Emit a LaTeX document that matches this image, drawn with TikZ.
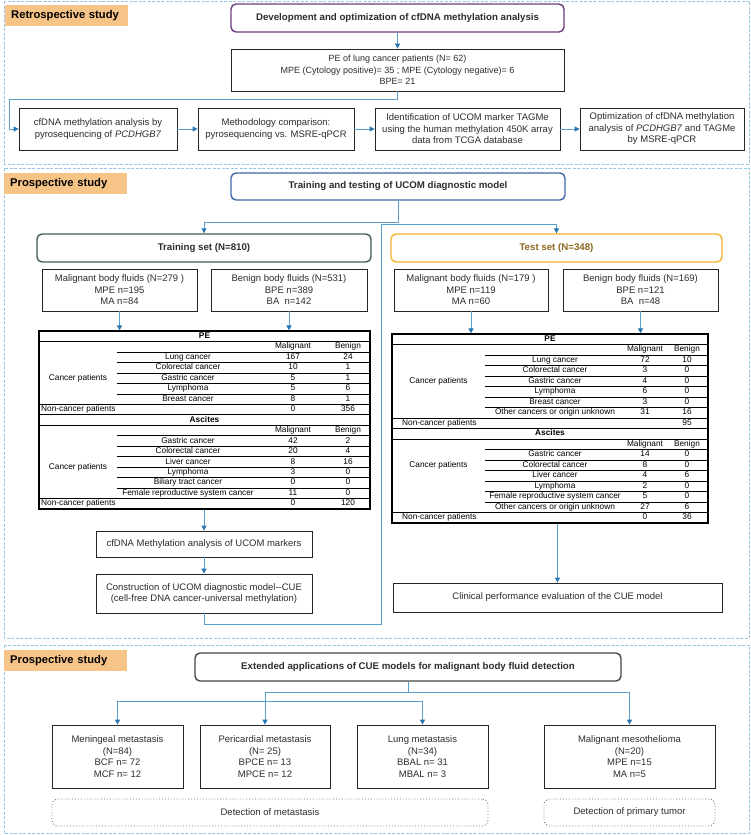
\documentclass[tikz,border=0pt]{standalone}
\usepackage{fontspec}
\setmainfont{Liberation Sans}
\usetikzlibrary{arrows.meta}
\definecolor{secline}{RGB}{150,200,228}
\definecolor{tagfill}{RGB}{246,196,134}
\definecolor{conn}{RGB}{90,160,205}
\definecolor{arr}{RGB}{40,118,176}
\definecolor{devc}{RGB}{106,60,124}
\definecolor{ttmc}{RGB}{64,104,168}
\definecolor{trainc}{RGB}{62,94,86}
\definecolor{testc}{RGB}{242,178,46}
\definecolor{testt}{RGB}{140,104,30}
\definecolor{extc}{RGB}{70,70,70}
\definecolor{dotc}{RGB}{130,110,150}
\definecolor{txt}{RGB}{45,45,45}
\begin{document}
\begin{tikzpicture}[x=1pt,y=-1pt,
  every node/.style={inner sep=0pt, text=txt},
  section/.style={draw=secline, line width=0.8pt, dash pattern=on 3pt off 1.5pt},
  tag/.style={fill=tagfill, anchor=north west, minimum width=123pt, minimum height=21pt, inner xsep=6pt, text width=111pt, align=left, font=\fontsize{11.2}{13}\selectfont\bfseries, text=black},
  box/.style={draw=black!85, line width=0.8pt, align=center, font=\fontsize{9.5}{11.5}\selectfont},
  headbox/.style={rounded corners=5pt, line width=1.4pt, align=center, font=\fontsize{9.7}{11.5}\selectfont\bfseries},
  dotbox/.style={draw=dotc, dotted, line width=0.9pt, rounded corners=6pt, align=center, font=\fontsize{9.5}{11.5}\selectfont},
  cell/.style={font=\fontsize{8.3}{9}\selectfont, text=black, text height=6pt, text depth=1.7pt},
  tcell/.style={cell, font=\fontsize{8.3}{9}\selectfont\bfseries},
  tabframe/.style={draw=black, line width=1.2pt},
  fullrule/.style={draw=black, line width=0.9pt},
  partrule/.style={draw=black, line width=0.65pt},
  conline/.style={draw=conn, line width=0.9pt},
  arrowline/.style={conline, -{Triangle[length=5pt,width=5pt,color=arr]}},
]
\fill[white] (0,0) rectangle (750,835);
\useasboundingbox (0,0) rectangle (750,835);

% ---------------- Section 1 ----------------
\draw[section] (4,1) rectangle (749,164);
\node[tag] (tag1) at (5,5) {\mbox{Retrospective study}};
\node[headbox, draw=devc, minimum width=333pt, minimum height=28pt] (dev) at (397.5,18) {Development and optimization of cfDNA methylation analysis};
\node[box, minimum width=333pt, minimum height=42pt, font=\fontsize{9}{11.5}\selectfont] (pe) at (397.5,70) {PE of lung cancer patients (N= 62)\\MPE (Cytology positive)= 35 ; MPE (Cytology negative)= 6\\BPE= 21};
\node[box, minimum width=158pt, minimum height=42pt] (b1) at (98,129) {cfDNA methylation analysis by\\pyrosequencing of \textit{PCDHGB7}};
\node[box, minimum width=156pt, minimum height=42pt] (b2) at (276,129) {Methodology comparison:\\pyrosequencing vs. MSRE-qPCR};
\node[box, minimum width=185pt, minimum height=42pt] (b3) at (467.5,129) {Identification of UCOM marker TAGMe\\using the human methylation 450K array\\data from TCGA database};
\node[box, minimum width=164pt, minimum height=42pt] (b4) at (662,129) {Optimization of cfDNA methylation\\analysis of \textit{PCDHGB7} and TAGMe\\by MSRE-qPCR};
\draw[arrowline] (dev.south) -- (pe.north);
\draw[arrowline] (pe.south) -- ++(0,8) -| (9,129) -- (b1.west);
\draw[arrowline] (b1.east) -- (b2.west);
\draw[arrowline] (b2.east) -- (b3.west);
\draw[arrowline] (b3.east) -- (b4.west);

% ---------------- Section 2 ----------------
\draw[section] (4,168) rectangle (749,638);
\node[tag] (tag2) at (4,173) {\mbox{Prospective study}};
\node[headbox, draw=ttmc, minimum width=334pt, minimum height=27pt] (ttm) at (398,186.5) {Training and testing of UCOM diagnostic model};
\node[headbox, draw=trainc, minimum width=334pt, minimum height=28pt] (train) at (204,248) {Training set (N=810)};
\node[headbox, draw=testc, text=testt, minimum width=331pt, minimum height=28pt] (test) at (556.5,248) {Test set (N=348)};
\node[box, minimum width=155pt, minimum height=42pt] (mal1) at (119.5,290) {Malignant body fluids (N=279 )\\MPE n=195\\MA n=84};
\node[box, minimum width=156pt, minimum height=42pt] (ben1) at (289,290) {Benign body fluids (N=531)\\BPE n=389\\BA\ \ n=142};
\node[box, minimum width=154pt, minimum height=42pt] (mal2) at (471,290) {Malignant body fluids (N=179 )\\MPE n=119\\MA n=60};
\node[box, minimum width=155pt, minimum height=42pt] (ben2) at (640.5,290) {Benign body fluids (N=169)\\BPE n=121\\BA\ \ n=48};

% Table 1
\node[tabframe, minimum width=331pt, minimum height=178pt] (tab1) at (204.5,420) {};
\def\tAy{331}\def\tAh{10.47}
\foreach \ri in {2,8,9,10,17} \draw[fullrule] (39,{\tAy+(\ri-1)*\tAh}) -- (370,{\tAy+(\ri-1)*\tAh});
\foreach \ri in {3,4,5,6,7,11,12,13,14,15,16} \draw[partrule] (117,{\tAy+(\ri-1)*\tAh}) -- (370,{\tAy+(\ri-1)*\tAh});
\node[tcell] (t1pe) at (204.5,{\tAy+0.5*\tAh}) {PE};
\node[tcell] (t1as) at (204.5,{\tAy+8.5*\tAh}) {Ascites};
\foreach \ri/\kk in {2/a,10/b} {
  \node[cell] (t1hm\kk) at (293,{\tAy+(\ri-0.5)*\tAh}) {Malignant};
  \node[cell] (t1hb\kk) at (348,{\tAy+(\ri-0.5)*\tAh}) {Benign};
}
\foreach \ri/\nm/\cm/\cb in {3/Lung cancer/167/24, 4/Colorectal cancer/10/1, 5/Gastric cancer/5/1, 6/Lymphoma/5/6, 7/Breast cancer/8/1, 11/Gastric cancer/42/2, 12/Colorectal cancer/20/4, 13/Liver cancer/8/16, 14/Lymphoma/3/0, 15/Biliary tract cancer/0/0, 16/Female reproductive system cancer/11/0} {
  \node[cell] (t1n\ri) at (188,{\tAy+(\ri-0.5)*\tAh}) {\nm};
  \node[cell] (t1m\ri) at (293,{\tAy+(\ri-0.5)*\tAh}) {\cm};
  \node[cell] (t1b\ri) at (348,{\tAy+(\ri-0.5)*\tAh}) {\cb};
}
\node[cell] (t1cpa) at (78,{\tAy+4.5*\tAh}) {Cancer patients};
\node[cell] (t1cpb) at (78,{\tAy+13.0*\tAh}) {Cancer patients};
\node[cell, anchor=west] (t1nca) at (41,{\tAy+7.5*\tAh}) {Non-cancer patients};
\node[cell] (t1ncam) at (293,{\tAy+7.5*\tAh}) {0};
\node[cell] (t1ncab) at (348,{\tAy+7.5*\tAh}) {356};
\node[cell, anchor=west] (t1ncb) at (41,{\tAy+16.5*\tAh}) {Non-cancer patients};
\node[cell] (t1ncbm) at (293,{\tAy+16.5*\tAh}) {0};
\node[cell] (t1ncbb) at (348,{\tAy+16.5*\tAh}) {120};

% Table 2
\node[tabframe, minimum width=316pt, minimum height=189pt] (tab2) at (550,428.5) {};
\def\tBy{334}\def\tBh{10.5}
\foreach \ri in {2,9,10,11,18} \draw[fullrule] (392,{\tBy+(\ri-1)*\tBh}) -- (708,{\tBy+(\ri-1)*\tBh});
\foreach \ri in {3,4,5,6,7,8,12,13,14,15,16,17} \draw[partrule] (485,{\tBy+(\ri-1)*\tBh}) -- (708,{\tBy+(\ri-1)*\tBh});
\node[tcell] (t2pe) at (550,{\tBy+0.5*\tBh}) {PE};
\node[tcell] (t2as) at (550,{\tBy+9.5*\tBh}) {Ascites};
\foreach \ri/\kk in {2/a,11/b} {
  \node[cell] (t2hm\kk) at (645,{\tBy+(\ri-0.5)*\tBh}) {Malignant};
  \node[cell] (t2hb\kk) at (687,{\tBy+(\ri-0.5)*\tBh}) {Benign};
}
\foreach \ri/\nm/\cm/\cb in {3/Lung cancer/72/10, 4/Colorectal cancer/3/0, 5/Gastric cancer/4/0, 6/Lymphoma/6/0, 7/Breast cancer/3/0, 8/Other cancers or origin unknown/31/16, 12/Gastric cancer/14/0, 13/Colorectal cancer/8/0, 14/Liver cancer/4/6, 15/Lymphoma/2/0, 16/Female reproductive system cancer/5/0, 17/Other cancers or origin unknown/27/6} {
  \node[cell] (t2n\ri) at (555,{\tBy+(\ri-0.5)*\tBh}) {\nm};
  \node[cell] (t2m\ri) at (645,{\tBy+(\ri-0.5)*\tBh}) {\cm};
  \node[cell] (t2b\ri) at (687,{\tBy+(\ri-0.5)*\tBh}) {\cb};
}
\node[cell] (t2cpa) at (438.5,{\tBy+4.5*\tBh}) {Cancer patients};
\node[cell] (t2cpb) at (438.5,{\tBy+12.5*\tBh}) {Cancer patients};
\node[cell, anchor=west] (t2nca) at (402,{\tBy+8.5*\tBh}) {Non-cancer patients};
\node[cell] (t2ncab) at (687,{\tBy+8.5*\tBh}) {95};
\node[cell, anchor=west] (t2ncb) at (402,{\tBy+17.5*\tBh}) {Non-cancer patients};
\node[cell] (t2ncbm) at (645,{\tBy+17.5*\tBh}) {0};
\node[cell] (t2ncbb) at (687,{\tBy+17.5*\tBh}) {36};

\node[box, minimum width=216pt, minimum height=26pt] (cfdna) at (204,544) {cfDNA Methylation analysis of UCOM markers};
\node[box, minimum width=216pt, minimum height=39pt] (cons) at (204,593.5) {Construction of UCOM diagnostic model-{}-CUE\\(cell-free DNA cancer-universal methylation)};
\node[box, minimum width=329pt, minimum height=29pt] (clin) at (557.5,597.5) {Clinical performance evaluation of the CUE model};

\draw[arrowline] (ttm.south) -- ++(0,22) -| (train.north);
\draw[arrowline] (mal1.south) -- (mal1.south |- tab1.north);
\draw[arrowline] (ben1.south) -- (ben1.south |- tab1.north);
\draw[arrowline] (mal2.south) -- (mal2.south |- tab2.north);
\draw[arrowline] (ben2.south) -- (ben2.south |- tab2.north);
\draw[arrowline] (cfdna.north |- tab1.south) -- (cfdna.north);
\draw[arrowline] (cfdna.south) -- (cons.north);
\draw[arrowline] (clin.north |- tab2.south) -- (clin.north);
\draw[arrowline] (cons.south) -- ++(0,11) -| (381,224) -| (test.north);

% ---------------- Section 3 ----------------
\draw[section] (4,645) rectangle (749,833);
\node[tag] (tag3) at (4,650) {\mbox{Prospective study}};
\node[headbox, draw=extc, minimum width=426pt, minimum height=28pt] (ext) at (408,667) {Extended applications of CUE models for malignant body fluid detection};
\node[box, minimum width=131pt, minimum height=63pt] (m1) at (117.5,756.5) {Meningeal metastasis\\(N=84)\\BCF n= 72\\MCF n= 12};
\node[box, minimum width=130pt, minimum height=63pt] (m2) at (265,756.5) {Pericardial metastasis\\(N= 25)\\BPCE n= 13\\MPCE n= 12};
\node[box, minimum width=131pt, minimum height=63pt] (m3) at (422.5,756.5) {Lung metastasis\\(N=34)\\BBAL n= 31\\MBAL n= 3};
\node[box, minimum width=171pt, minimum height=63pt] (m4) at (629.5,756.5) {Malignant mesothelioma\\(N=20)\\MPE n=15\\MA n=5};
\node[dotbox, minimum width=436pt, minimum height=27pt] (det1) at (270,812.5) {Detection of metastasis};
\node[dotbox, minimum width=171pt, minimum height=27pt] (det2) at (629.5,812.5) {Detection of primary tumor};
\coordinate (j1) at (408,692);
\coordinate (j2) at (265,701);
\draw[conline] (ext.south) -- (j1);
\draw[conline] (m2.north |- j1) -- (m4.north |- j1);
\draw[arrowline] (m2.north |- j1) -- (m2.north);
\draw[arrowline] (m4.north |- j1) -- (m4.north);
\draw[conline] (m1.north |- j2) -- (m3.north |- j2);
\draw[arrowline] (m1.north |- j2) -- (m1.north);
\draw[arrowline] (m3.north |- j2) -- (m3.north);
\end{tikzpicture}
\end{document}
